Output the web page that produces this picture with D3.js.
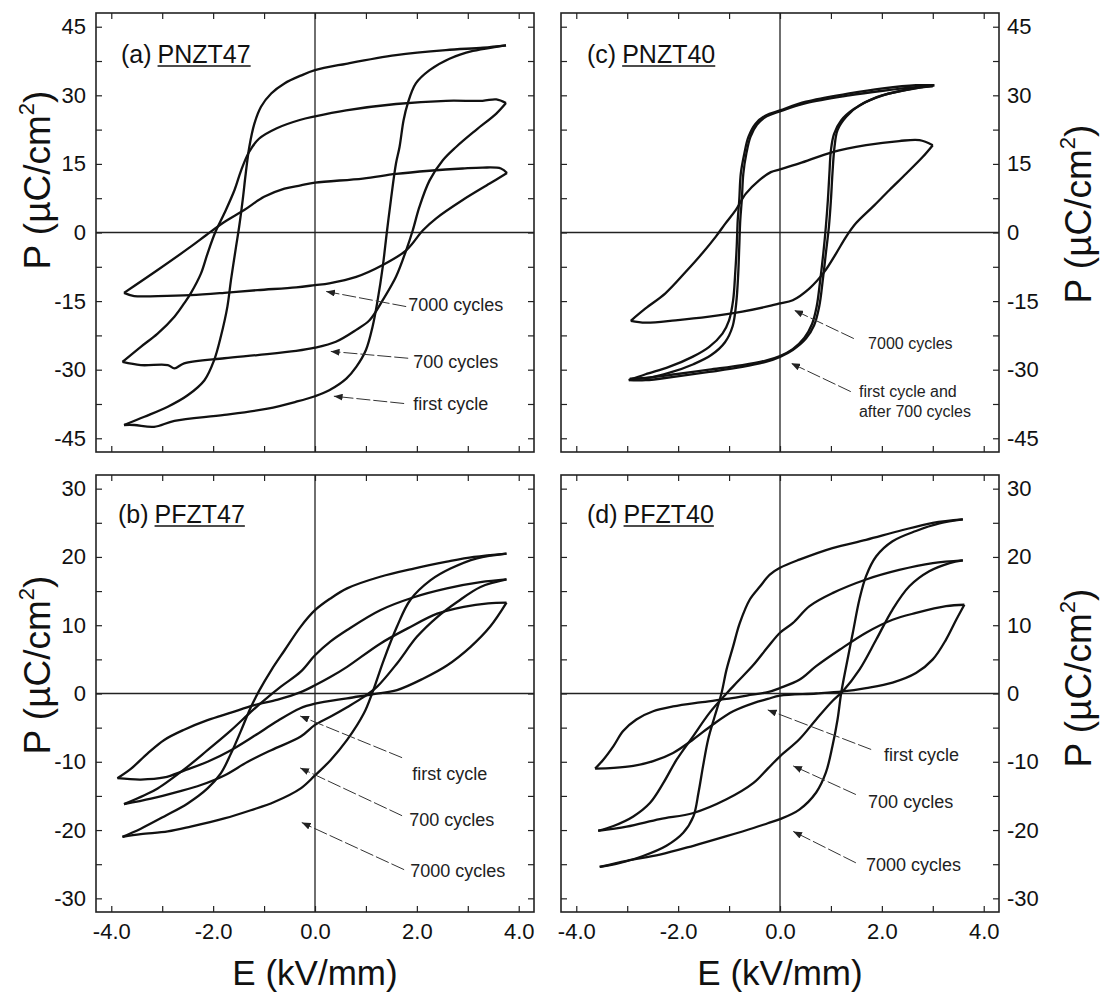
<!DOCTYPE html>
<html><head><meta charset="utf-8">
<script src="https://cdn.jsdelivr.net/npm/d3@7"></script>
<style>
body{margin:0;background:#fff;}
svg{display:block;font-family:"Liberation Sans",Arial,Helvetica,sans-serif;}
</style></head><body>
<svg id="c" width="1104" height="999"></svg>
<script>
// ---------------- DATA (E in kV/mm, P in µC/cm²) ----------------
const xTickLabels = [-4, -2, 0, 2, 4];
const yTicksTop = [-45, -30, -15, 0, 15, 30, 45];
const yTicksBottom = [-30, -20, -10, 0, 10, 20, 30];

// (a) PNZT47
const a_first_up = [[-3.75,-42.1],[-3.35,-40.3],[-2.89,-38.1],[-2.50,-35.6],[-2.17,-32.3],[-1.98,-27.9],[-1.85,-22.8],[-1.72,-16.2],[-1.65,-10.4],[-1.55,-3.1],[-1.49,1.2],[-1.42,7.1],[-1.36,12.9],[-1.29,18.7],[-1.19,23.8],[-1.06,27.5],[-0.86,30.4],[-0.60,32.6],[-0.28,34.3],[0,35.5],[0.61,36.9],[1.59,38.8],[2.57,39.9],[3.30,40.4],[3.75,40.9]];
const a_first_lo = [[-3.75,-42.1],[-3.55,-42.1],[-3.16,-42.5],[-2.76,-41.2],[-1.78,-39.9],[-0.93,-38.5],[-0.37,-37.0],[0,-35.8],[0.28,-34.5],[0.62,-31.9],[0.81,-29.4],[1.00,-25.7],[1.13,-20.6],[1.23,-14.8],[1.33,-7.5],[1.41,0],[1.49,7.1],[1.59,15.1],[1.66,18.7],[1.74,24.6],[1.82,28.2],[1.98,32.6],[2.25,35.5],[2.64,38.0],[3.10,39.7],[3.56,40.6],[3.75,40.9]];
const a_700_up = [[-3.78,-28.3],[-3.42,-25.0],[-3.09,-22.1],[-2.76,-18.4],[-2.57,-15.5],[-2.44,-13.3],[-2.24,-9.0],[-2.11,-4.6],[-1.96,0],[-1.78,4.2],[-1.58,9.3],[-1.45,13.6],[-1.30,17.5],[-1.10,20.5],[-0.75,22.8],[-0.30,24.6],[0,25.4],[0.61,26.7],[1.59,28.1],[2.57,28.8],[3.29,28.8],[3.56,29.1],[3.75,28.3]];
const a_700_lo = [[-3.78,-28.3],[-3.42,-29.0],[-2.89,-29.0],[-2.76,-29.7],[-2.57,-28.6],[-1.78,-27.5],[-1.13,-26.8],[-0.37,-25.9],[0,-25.2],[0.41,-23.9],[0.81,-21.3],[1.07,-19.2],[1.33,-14.8],[1.59,-9.7],[1.79,-3.9],[1.92,0.5],[2.05,5.6],[2.25,11.4],[2.51,15.8],[2.77,18.7],[3.16,22.4],[3.56,26.0],[3.75,28.3]];
const a_7000_up = [[-3.75,-13.2],[-3.09,-8.2],[-2.44,-3.1],[-2.14,-0.6],[-1.78,2.3],[-1.39,4.9],[-1.00,7.8],[-0.60,9.6],[-0.28,10.3],[0,10.9],[0.94,11.8],[1.59,12.8],[2.25,13.5],[2.90,14.0],[3.29,14.2],[3.65,14.0],[3.77,13.0]];
const a_7000_lo = [[-3.75,-13.2],[-3.55,-13.9],[-3.09,-13.9],[-2.44,-13.7],[-1.78,-13.2],[-1.13,-12.6],[-0.37,-12.0],[0,-11.5],[0.28,-11.1],[0.81,-9.7],[1.33,-7.1],[1.79,-3.9],[2.12,0.5],[2.38,3.1],[2.90,7.1],[3.43,10.7],[3.77,13.0]];

// (b) PFZT47
const b_first_up = [[-3.88,-12.4],[-3.61,-11.0],[-3.29,-8.8],[-2.96,-6.8],[-2.57,-5.3],[-2.11,-3.9],[-1.65,-2.8],[-1.19,-1.7],[-0.73,-0.9],[-0.28,0.2],[0,1.2],[0.30,2.4],[0.63,3.9],[1.28,7.3],[1.81,9.5],[2.40,11.7],[2.92,12.7],[3.40,13.2],[3.76,13.3]];
const b_first_lo = [[-3.88,-12.4],[-3.42,-12.6],[-2.96,-12.3],[-2.57,-11.3],[-2.11,-10.0],[-1.65,-8.3],[-1.19,-6.2],[-0.73,-4.0],[-0.30,-2.2],[0,-1.5],[0.63,-0.7],[1.15,-0.1],[1.61,0.5],[2.13,2.2],[2.59,4.1],[3.05,6.8],[3.44,9.8],[3.76,13.3]];
const b_700_up = [[-3.75,-16.2],[-3.35,-14.9],[-3.09,-13.9],[-2.50,-10.7],[-2.11,-8.3],[-1.65,-5.4],[-1.26,-2.7],[-1.00,-1.0],[-0.67,1.0],[-0.28,3.2],[0,5.6],[0.30,7.6],[0.63,9.3],[1.28,12.2],[1.94,14.1],[2.59,15.4],[3.25,16.3],[3.76,16.7]];
const b_700_lo = [[-3.75,-16.2],[-3.22,-15.4],[-2.70,-14.4],[-2.24,-13.4],[-1.78,-12.0],[-1.32,-10.0],[-0.86,-8.3],[-0.28,-6.3],[0,-4.6],[0.30,-3.4],[0.63,-2.0],[0.96,-0.5],[1.22,1.0],[1.61,4.4],[2.00,8.3],[2.40,11.2],[2.79,13.4],[3.25,15.6],[3.76,16.7]];
const b_7000_up = [[-3.78,-21.0],[-3.42,-19.8],[-2.96,-18.0],[-2.50,-16.1],[-2.11,-13.9],[-1.85,-11.7],[-1.65,-8.8],[-1.45,-5.4],[-1.26,-2.0],[-1.09,0.5],[-0.86,3.4],[-0.60,6.3],[-0.28,9.8],[0,12.2],[0.30,13.9],[0.63,15.4],[1.28,17.1],[1.94,18.3],[2.59,19.3],[3.12,20.0],[3.76,20.5]];
const b_7000_lo = [[-3.78,-21.0],[-3.42,-20.6],[-2.89,-20.2],[-2.44,-19.5],[-1.78,-18.3],[-1.26,-17.1],[-0.80,-15.9],[-0.28,-13.9],[0,-12.0],[0.30,-9.8],[0.63,-6.8],[0.96,-2.9],[1.12,0],[1.35,4.9],[1.61,9.8],[1.87,13.7],[2.27,16.6],[2.66,18.3],[3.18,19.8],[3.76,20.5]];

// (c) PNZT40
const c_first_up = [[-2.97,-32.3],[-2.64,-31.0],[-2.18,-29.4],[-1.72,-27.2],[-1.39,-25.0],[-1.13,-22.1],[-1.00,-19.2],[-0.92,-14.8],[-0.88,-9.0],[-0.85,-3.1],[-0.83,2.7],[-0.80,7.1],[-0.77,12.9],[-0.70,17.3],[-0.62,20.9],[-0.48,23.8],[-0.28,25.6],[0,26.7],[0.51,28.6],[1.36,30.4],[2.02,31.5],[2.67,32.2],[3.03,32.2]];
const c_first_lo = [[-2.97,-32.3],[-2.64,-32.3],[-2.05,-31.5],[-1.39,-30.5],[-0.74,-29.4],[-0.28,-28.3],[0,-27.2],[0.25,-25.7],[0.51,-23.2],[0.67,-20.3],[0.77,-16.2],[0.84,-10.4],[0.90,-4.6],[0.96,1.2],[1.00,7.1],[1.03,12.9],[1.07,18.7],[1.13,22.4],[1.30,25.3],[1.56,27.8],[2.02,30.0],[2.61,31.5],[3.03,32.2]];
const c_700_up = [[-2.95,-32.0],[-2.60,-31.8],[-2.15,-30.6],[-1.70,-28.8],[-1.35,-26.8],[-1.08,-24.0],[-0.93,-20.5],[-0.86,-15.5],[-0.82,-9.0],[-0.80,-3.1],[-0.78,2.7],[-0.75,7.1],[-0.72,12.9],[-0.66,17.3],[-0.58,20.9],[-0.45,23.6],[-0.26,25.4],[0,26.5],[0.51,28.3],[1.36,30.0],[2.02,31.0],[2.67,31.8],[3.00,32.0]];
const c_700_lo = [[-2.95,-32.0],[-2.64,-31.8],[-2.05,-31.0],[-1.39,-30.0],[-0.74,-29.0],[-0.28,-28.0],[0,-27.0],[0.25,-25.5],[0.48,-23.0],[0.63,-20.0],[0.72,-16.2],[0.79,-10.4],[0.85,-4.6],[0.90,1.2],[0.94,7.1],[0.97,12.9],[1.00,18.0],[1.06,21.5],[1.20,24.5],[1.45,27.0],[1.90,29.6],[2.55,31.3],[3.00,32.0]];
const c_7000_up = [[-2.93,-19.3],[-2.64,-16.6],[-2.25,-13.3],[-1.85,-8.6],[-1.53,-4.6],[-1.26,-0.9],[-1.07,2.0],[-0.87,4.9],[-0.67,8.5],[-0.41,11.4],[-0.18,13.2],[0,13.8],[0.38,15.1],[1.03,17.6],[1.69,19.1],[2.34,20.0],[2.74,20.2],[3.00,19.1]];
const c_7000_lo = [[-2.93,-19.3],[-2.64,-19.7],[-2.05,-19.2],[-1.39,-18.4],[-0.74,-17.3],[-0.18,-16.0],[0,-15.5],[0.25,-14.8],[0.58,-12.2],[0.87,-8.6],[1.10,-4.6],[1.30,-0.9],[1.49,2.0],[1.82,5.6],[2.15,9.3],[2.48,12.9],[2.80,16.5],[3.00,19.1]];

// (d) PFZT40
const d_first_up = [[-3.63,-11.0],[-3.47,-9.7],[-3.27,-7.7],[-3.08,-5.5],[-2.82,-3.8],[-2.49,-2.6],[-2.10,-1.9],[-1.57,-1.3],[-1.05,-0.8],[-0.65,-0.3],[-0.24,0.2],[0,0.8],[0.38,2.0],[0.71,4.0],[1.17,6.4],[1.69,8.9],[2.21,10.8],[2.67,11.8],[3.26,12.8],[3.62,13.0]];
const d_first_lo = [[-3.63,-11.0],[-3.27,-10.9],[-2.88,-10.6],[-2.49,-9.9],[-2.10,-8.7],[-1.70,-6.7],[-1.31,-4.5],[-0.92,-2.6],[-0.52,-1.4],[-0.24,-0.8],[0,-0.3],[0.71,0],[1.23,0.3],[1.69,0.8],[2.21,1.6],[2.67,3.0],[3.00,5.0],[3.26,7.9],[3.46,10.8],[3.62,13.0]];
const d_700_up = [[-3.57,-20.1],[-3.27,-19.4],[-2.88,-18.0],[-2.55,-16.0],[-2.29,-13.1],[-2.03,-9.7],[-1.70,-6.2],[-1.38,-2.8],[-1.05,0],[-0.85,1.6],[-0.52,4.2],[-0.24,6.8],[0,8.9],[0.25,10.3],[0.58,12.8],[1.03,14.7],[1.69,16.7],[2.34,18.1],[3.00,19.1],[3.59,19.5]];
const d_700_lo = [[-3.57,-20.1],[-3.01,-19.5],[-2.36,-18.4],[-1.70,-17.5],[-1.05,-15.5],[-0.52,-13.1],[-0.24,-11.0],[0,-9.2],[0.38,-6.7],[0.71,-3.8],[1.03,-1.1],[1.23,0.3],[1.56,3.5],[1.89,7.9],[2.21,12.3],[2.54,15.7],[2.93,17.9],[3.33,19.1],[3.59,19.5]];
const d_7000_up = [[-3.54,-25.4],[-3.14,-24.8],[-2.69,-23.8],[-2.23,-22.3],[-1.90,-20.4],[-1.70,-18.0],[-1.60,-14.5],[-1.51,-10.6],[-1.41,-6.7],[-1.28,-3.3],[-1.15,0],[-1.05,3.5],[-0.92,6.9],[-0.79,10.3],[-0.59,13.8],[-0.39,15.7],[-0.20,17.4],[0,18.4],[0.38,19.6],[1.03,21.3],[1.69,22.5],[2.34,23.8],[3.00,25.0],[3.59,25.5]];
const d_7000_lo = [[-3.54,-25.4],[-3.01,-24.5],[-2.36,-23.6],[-1.70,-22.3],[-1.05,-20.9],[-0.52,-19.7],[-0.24,-19.0],[0,-18.4],[0.38,-17.0],[0.71,-14.5],[0.90,-11.6],[1.03,-7.7],[1.13,-3.8],[1.20,0],[1.30,4.0],[1.43,8.9],[1.56,13.8],[1.69,17.2],[1.89,20.1],[2.21,22.3],[2.67,23.8],[3.13,24.9],[3.59,25.5]];

// annotations: [text lines, text E, text P, arrow from E,P, arrow to E,P]
const annoA = [
  [["7000 cycles"], 1.83, -16.0, 1.79, -16.2, 0.22, -12.9],
  [["700 cycles"], 1.93, -28.6, 1.83, -27.5, 0.31, -26.0],
  [["first cycle"], 1.93, -37.8, 1.75, -37.4, 0.37, -35.8]
];
const annoB = [
  [["first cycle"], 1.91, -11.9, 1.71, -9.4, -0.29, -3.3],
  [["700 cycles"], 1.85, -18.6, 1.71, -17.9, -0.29, -10.9],
  [["7000 cycles"], 1.87, -26.2, 1.75, -25.8, -0.26, -18.9]
];
const annoC = [
  [["7000 cycles"], 1.73, -24.7, 1.45, -23.2, 0.28, -17.0],
  [["first cycle and", "after 700 cycles"], 1.55, -35.2, 1.39, -34.8, 0.22, -28.6]
];
const annoD = [
  [["first cycle"], 2.04, -9.1, 1.79, -8.2, -0.24, -2.4],
  [["700 cycles"], 1.73, -16.0, 1.49, -14.8, 0.26, -10.6],
  [["7000 cycles"], 1.69, -25.2, 1.49, -24.8, 0.26, -20.2]
];

// ---------------- DRAWING ----------------
const W = 1104, H = 999;
const svg = d3.select('#c');
svg.append('rect').attr('width', W).attr('height', H).attr('fill', '#fff');

svg.append('defs').append('marker')
  .attr('id', 'ah').attr('viewBox', '0 0 10 8').attr('refX', 10).attr('refY', 4)
  .attr('markerWidth', 9).attr('markerHeight', 7).attr('markerUnits', 'userSpaceOnUse')
  .attr('orient', 'auto')
  .append('path').attr('d', 'M0,0 L10,4 L0,8 Z').attr('fill', '#222');

const xDomain = [-4.3, 4.3];
const panels = [
  {px:[96,534], py:[13,452], yDom:[-48,48], yTicks:yTicksTop, yStep:7.5, side:'left', showX:false,
   tag:'(a)', name:'PNZT47', tagPos:[121,63], loops:[a_first_up,a_first_lo,a_700_up,a_700_lo,a_7000_up,a_7000_lo], annos:annoA, fs:18, title:[50,180]},
  {px:[96,534], py:[475,912], yDom:[-32,32], yTicks:yTicksBottom, yStep:5, side:'left', showX:true,
   tag:'(b)', name:'PFZT47', tagPos:[118,523], loops:[b_first_up,b_first_lo,b_700_up,b_700_lo,b_7000_up,b_7000_lo], annos:annoB, fs:18, title:[50,665]},
  {px:[561,999], py:[13,452], yDom:[-48,48], yTicks:yTicksTop, yStep:7.5, side:'right', showX:false,
   tag:'(c)', name:'PNZT40', tagPos:[587,63], loops:[c_first_up,c_first_lo,c_700_up,c_700_lo,c_7000_up,c_7000_lo], annos:annoC, fs:16, title:[1091,214]},
  {px:[561,999], py:[475,912], yDom:[-32,32], yTicks:yTicksBottom, yStep:5, side:'right', showX:true,
   tag:'(d)', name:'PFZT40', tagPos:[587,523], loops:[d_first_up,d_first_lo,d_700_up,d_700_lo,d_7000_up,d_7000_lo], annos:annoD, fs:18, title:[1091,678]}
];

panels.forEach(p => {
  const x = d3.scaleLinear().domain(xDomain).range(p.px);
  const y = d3.scaleLinear().domain(p.yDom).range([p.py[1], p.py[0]]);
  const g = svg.append('g');
  const xt = d3.range(-4, 4.001, 1);
  const yt = d3.range(p.yTicks[0], p.yTicks[p.yTicks.length-1] + 0.001, p.yStep);

  // zero lines
  g.append('line').attr('x1', x(0)).attr('x2', x(0)).attr('y1', p.py[0]).attr('y2', p.py[1])
    .attr('stroke', '#222').attr('stroke-width', 1.3);
  g.append('line').attr('x1', p.px[0]).attr('x2', p.px[1]).attr('y1', y(0)).attr('y2', y(0))
    .attr('stroke', '#222').attr('stroke-width', 1.5);

  // axes with inward ticks
  const fmtX = d => (p.showX && xTickLabels.includes(d)) ? d.toFixed(1) : '';
  const fmtY = d => p.yTicks.includes(d) ? String(d) : '';
  const axB = g.append('g').attr('transform', `translate(0,${p.py[1]})`)
    .call(d3.axisBottom(x).tickValues(xt).tickSize(-6).tickPadding(11).tickFormat(fmtX));
  const axT = g.append('g').attr('transform', `translate(0,${p.py[0]})`)
    .call(d3.axisTop(x).tickValues(xt).tickSize(-6).tickFormat(''));
  const axL = g.append('g').attr('transform', `translate(${p.px[0]},0)`)
    .call(d3.axisLeft(y).tickValues(yt).tickSize(-6).tickPadding(10).tickFormat(p.side==='left'?fmtY:''));
  const axR = g.append('g').attr('transform', `translate(${p.px[1]},0)`)
    .call(d3.axisRight(y).tickValues(yt).tickSize(-6).tickPadding(8).tickFormat(p.side==='right'?fmtY:''));
  [axB, axT, axL, axR].forEach(a => {
    a.select('.domain').remove();
    a.selectAll('line').attr('stroke', '#222').attr('stroke-width', 1.2);
    a.selectAll('text').attr('fill', '#111').style('font-size', '22px').style('font-family', '"Liberation Sans",Arial,sans-serif');
  });

  // frame
  g.append('rect').attr('x', p.px[0]).attr('y', p.py[0])
    .attr('width', p.px[1]-p.px[0]).attr('height', p.py[1]-p.py[0])
    .attr('fill', 'none').attr('stroke', '#222').attr('stroke-width', 1.6);

  // loops
  const line = d3.line().x(d => x(d[0])).y(d => y(d[1])).curve(d3.curveCatmullRom.alpha(0.5));
  p.loops.forEach(L => {
    g.append('path').attr('d', line(L)).attr('fill', 'none')
      .attr('stroke', '#111').attr('stroke-width', 2.3).attr('stroke-linejoin', 'round');
  });

  // annotations
  p.annos.forEach(a => {
    g.append('line').attr('x1', x(a[3])).attr('y1', y(a[4])).attr('x2', x(a[5])).attr('y2', y(a[6]))
      .attr('stroke', '#333').attr('stroke-width', 1).attr('stroke-dasharray', '14,3')
      .attr('marker-end', 'url(#ah)');
    const t = g.append('text').attr('x', x(a[1])).attr('y', y(a[2]))
      .attr('fill', '#222').style('font-size', p.fs + 'px').attr('dominant-baseline', 'middle');
    a[0].forEach((s, i) => t.append('tspan').attr('x', x(a[1])).attr('dy', i === 0 ? 0 : p.fs * 1.2).text(s));
  });

  // panel tag with underlined name
  const t1 = g.append('text').attr('x', p.tagPos[0]).attr('y', p.tagPos[1])
    .style('font-size', '25px').attr('fill', '#111').text(p.tag + ' ');
  const w1 = t1.node().getComputedTextLength() + 6;
  const t2 = g.append('text').attr('x', p.tagPos[0] + w1).attr('y', p.tagPos[1])
    .style('font-size', '25px').attr('fill', '#111').text(p.name);
  const w2 = t2.node().getComputedTextLength();
  g.append('line').attr('x1', p.tagPos[0] + w1).attr('x2', p.tagPos[0] + w1 + w2)
    .attr('y1', p.tagPos[1] + 3).attr('y2', p.tagPos[1] + 3).attr('stroke', '#111').attr('stroke-width', 1.5);

  // y title
  const yt2 = g.append('text').attr('transform', `translate(${p.title[0]},${p.title[1]}) rotate(-90)`)
    .attr('text-anchor', 'middle').style('font-size', '37px').attr('fill', '#111');
  yt2.append('tspan').text('P (\u00B5C/cm');
  yt2.append('tspan').attr('dy', -16).style('font-size', '22px').text('2');
  yt2.append('tspan').attr('dy', 16).text(')');

  // x title
  if (p.showX) {
    g.append('text').attr('x', x(0)).attr('y', 985).attr('text-anchor', 'middle')
      .style('font-size', '35px').attr('fill', '#111').text('E (kV/mm)');
  }
});
</script>
</body></html>
